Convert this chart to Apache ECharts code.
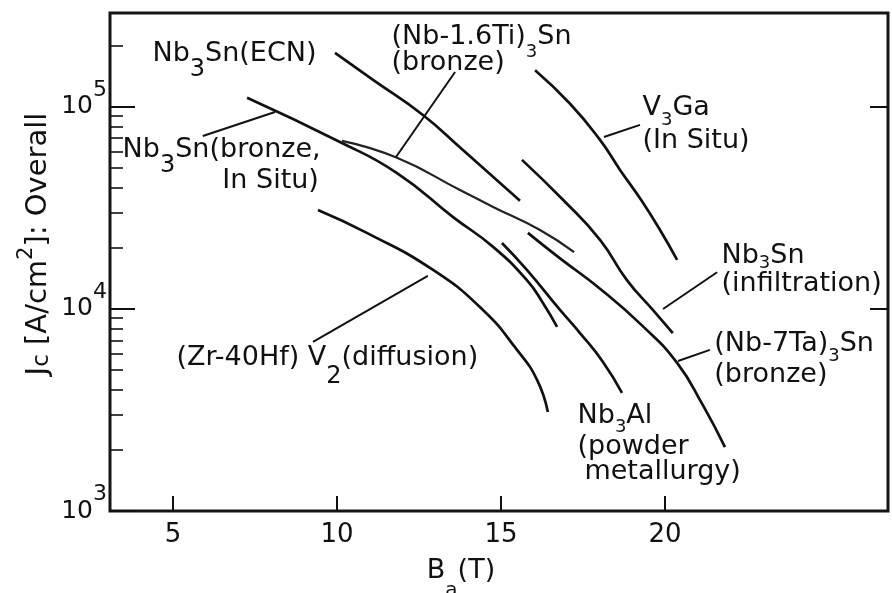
<!DOCTYPE html>
<html>
<head>
<meta charset="utf-8">
<script src="https://cdn.jsdelivr.net/npm/echarts@6/dist/echarts.min.js"></script>
<style>
html,body{margin:0;padding:0;background:#fff;}
#chart{width:892px;height:593px;}
</style>
</head>
<body>
<div id="chart"></div>
<script>
// ---- data (B in tesla, Jc in A/cm^2) ----
const xTicks = [5, 10, 15, 20];
const yMajor = [1e3, 1e4, 1e5];
const yMinor = [2e3,3e3,4e3,5e3,6e3,7e3,8e3,9e3,2e4,3e4,4e4,5e4,6e4,7e4,8e4,9e4,2e5];

const curveNames = ['Nb3Sn(ECN)','Nb3Sn(bronze, In Situ)','(Nb-1.6Ti)3Sn (bronze)','V3Ga (In Situ)','Nb3Sn (infiltration)','(Nb-7Ta)3Sn (bronze)','Nb3Al (powder metallurgy)','(Zr-40Hf)V2 (diffusion)'];

const bECN   = [9.94, 11.10, 12.62, 13.84, 15.58];
const jECN   = [185000, 136000, 91200, 61200, 34300];
const bInSitu = [7.26, 10.09, 11.83, 13.54, 14.76, 15.79, 16.28, 16.71];
const jInSitu = [111000, 67100, 47100, 28500, 20300, 13900, 10700, 8150];
const bNbTi  = [10.15, 11.83, 13.75, 14.76, 16.19, 17.23];
const jNbTi  = [67900, 56000, 38800, 32000, 24600, 19100];
const bV3Ga  = [16.04, 17.10, 18.02, 18.63, 19.27, 19.85, 20.37];
const jV3Ga  = [152000, 104000, 68700, 48800, 34700, 24600, 17500];
const bInfil = [15.64, 16.89, 18.02, 18.84, 19.63, 20.24];
const jInfil = [54700, 34700, 22000, 13900, 9890, 7600];
const bNbTa  = [15.82, 16.80, 18.02, 19.33, 20.37, 21.16, 21.83];
const jNbTa  = [23800, 17800, 12600, 8200, 5410, 3330, 2070];
const bNb3Al = [15.03, 15.79, 16.80, 17.41, 18.11, 18.69];
const jNb3Al = [21200, 15600, 9890, 7600, 5470, 3840];
const bZrHf  = [9.42, 10.91, 12.93, 14.45, 15.49, 16.10, 16.43];
const jZrHf  = [30900, 23800, 15600, 9890, 6270, 4460, 3090];

// leader lines: [B start, B end], [J start, J end]
const leaderB = [[5.91, 8.11], [13.60, 11.80], [18.14, 19.24], [19.94, 21.59], [20.40, 21.37], [9.27, 12.77]];
const leaderJ = [[71800, 94400], [149000, 56500], [71000, 81500], [10000, 15200], [5530, 6270], [6870, 14600]];

// annotation texts with their anchor (left edge, middle) in data units
const labelTexts = ['Nb{sb|3}Sn(ECN)', 'Nb{sb|3}Sn(bronze,', 'In Situ)', '(Nb-1.6Ti){s16|3}Sn', '(bronze)', 'V{s12|3}Ga', '(In Situ)', 'Nb{s8|3}Sn', '(infiltration)', '(Nb-7Ta){s12|3}Sn', '(bronze)', 'Nb{s12|3}Al', '(powder', 'metallurgy)', '(Zr-40Hf) V{sz|2}(diffusion)'];
const labelB = [4.39, 3.48, 6.52, 11.68, 11.68, 19.33, 19.33, 21.74, 21.74, 21.52, 21.52, 17.35, 17.35, 17.56, 5.12];
const labelLogJ = [5.262, 4.785, 4.629, 5.345, 5.215, 4.990, 4.830, 4.262, 4.119, 3.822, 3.673, 3.470, 3.315, 3.193, 3.757];

const FONT = 'DejaVu Sans';
const INK = '#111';
const curveB = [bECN, bInSitu, bNbTi, bV3Ga, bInfil, bNbTa, bNb3Al, bZrHf];
const curveJ = [jECN, jInSitu, jNbTi, jV3Ga, jInfil, jNbTa, jNb3Al, jZrHf];

const series = [];
curveB.forEach((bs, i) => {
  series.push({
    name: curveNames[i], type: 'line', smooth: 0.5, symbol: 'none',
    lineStyle: { color: i === 2 ? '#222' : INK, width: i === 2 ? 2.2 : 2.7 },
    data: bs.map((b, k) => [b, curveJ[i][k]])
  });
});
leaderB.forEach((bs, i) => {
  series.push({
    type: 'line', symbol: 'none', lineStyle: { color: INK, width: 2 },
    data: bs.map((b, k) => [b, leaderJ[i][k]])
  });
});
const subStyle = (size, shift) => ({ fontSize: size, fontFamily: FONT, color: INK, lineHeight: 30, padding: [shift * 2, 0, 0, 0] });
series.push({
  type: 'scatter', symbol: 'circle', symbolSize: 1, itemStyle: { color: '#fff', opacity: 1 }, silent: true, z: 5,
  data: labelTexts.map((t, i) => ({ value: [labelB[i], Math.pow(10, labelLogJ[i])], name: t })),
  label: {
    show: true, position: [0, 0], align: 'left', verticalAlign: 'middle', opacity: 1,
    formatter: p => p.name,
    fontFamily: FONT, fontSize: 27, color: INK, lineHeight: 30,
    rich: {
      sb: subStyle(24, 16), s16: subStyle(18, 16), s12: subStyle(18, 12),
      s8: subStyle(18, 8), sz: subStyle(24, 19)
    }
  }
});

const chart = echarts.init(document.getElementById('chart'));
const yMin = 1000, yMax = Math.pow(10, 5.465);
chart.setOption({
  animation: false,
  backgroundColor: '#fff',
  grid: { left: 110, right: 4, top: 13, bottom: 82, show: true, borderColor: '#151515', borderWidth: 3,
          containLabel: false, outerBoundsMode: 'none' },
  xAxis: {
    type: 'value', min: 3.08, max: 26.8,
    axisLine: { show: false }, splitLine: { show: false },
    axisTick: { inside: true, length: 15, customValues: xTicks, lineStyle: { color: INK, width: 2 } },
    axisLabel: { customValues: xTicks, fontFamily: FONT, fontSize: 26, color: INK, margin: 11 },
    name: 'B{s|a}(T)', nameLocation: 'middle', nameGap: 45, nameMoveOverlap: false,
    nameTextStyle: { fontFamily: FONT, fontSize: 27, color: INK, lineHeight: 30, padding: [0, 76, 0, 0],
      rich: { s: { fontSize: 20, fontFamily: FONT, color: INK, lineHeight: 30, padding: [40, 0, 0, 0] } } }
  },
  yAxis: [
    {
      type: 'log', min: yMin, max: yMax, logBase: 10,
      axisLine: { show: false }, splitLine: { show: false },
      axisTick: { inside: true, length: 25, customValues: yMajor, lineStyle: { color: INK, width: 2 } },
      axisLabel: {
        customValues: yMajor, margin: 3, fontFamily: FONT, color: INK,
        formatter: v => '{b|10}{p|' + Math.round(Math.log10(v)) + '}',
        rich: {
          b: { fontSize: 25, fontFamily: FONT, color: INK, lineHeight: 30 },
          p: { fontSize: 22, fontFamily: FONT, color: INK, lineHeight: 30, padding: [0, 0, 34, 0] }
        }
      },
      name: 'J{c|c} [A/cm{p|2}]: Overall', nameLocation: 'middle', nameGap: 57, nameMoveOverlap: false,
      nameTextStyle: { fontFamily: FONT, fontSize: 29, color: INK, lineHeight: 30, padding: [0, 0, 0, 36],
        rich: {
          c: { fontSize: 23, fontFamily: FONT, color: INK, lineHeight: 30, padding: [8, 0, 0, 0] },
          p: { fontSize: 21, fontFamily: FONT, color: INK, lineHeight: 30, padding: [0, 0, 22, 0] }
        } }
    },
    {
      type: 'log', min: yMin, max: yMax, position: 'left',
      axisLine: { show: false }, splitLine: { show: false }, axisLabel: { show: false },
      axisTick: { inside: true, length: 13, customValues: yMinor, lineStyle: { color: INK, width: 1.6 } }
    },
    {
      type: 'log', min: yMin, max: yMax, position: 'right',
      axisLine: { show: false }, splitLine: { show: false }, axisLabel: { show: false },
      axisTick: { inside: true, length: 18, customValues: [1e4, 1e5], lineStyle: { color: INK, width: 2 } }
    }
  ],
  series: series
});
</script>
</body>
</html>
